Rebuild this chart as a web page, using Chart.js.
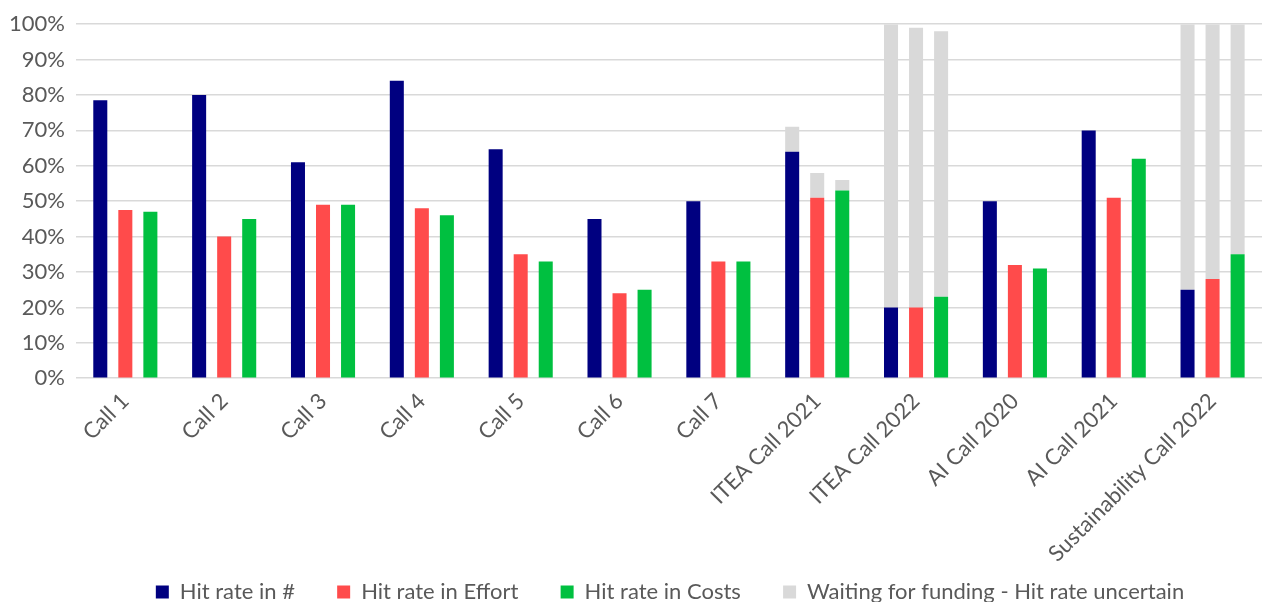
<!DOCTYPE html>
<html>
<head>
<meta charset="utf-8">
<script src="https://cdn.jsdelivr.net/npm/chart.js@4/dist/chart.umd.min.js"></script>
<style>
  html, body { margin: 0; padding: 0; background: #fff; }
  #wrap { width: 1266px; height: 602px; position: relative; }
</style>
</head>
<body>
<div id="wrap"><canvas id="hitChart"></canvas></div>
<script>
// hit rates per call (%)
const calls = ['Call 1', 'Call 2', 'Call 3', 'Call 4', 'Call 5', 'Call 6', 'Call 7',
  'ITEA Call 2021', 'ITEA Call 2022', 'AI Call 2020', 'AI Call 2021', 'Sustainability Call 2022'];
const hitNum    = [78.5, 80, 61, 84, 64.7, 45, 50, 64, 20, 50, 70, 25];
const hitEffort = [47.5, 40, 49, 48, 35, 24, 33, 51, 20, 32, 51, 28];
const hitCosts  = [47, 45, 49, 46, 33, 25, 33, 53, 23, 31, 62, 35];
// grey "waiting" part stacked on top of each bar
const waitNum    = [null, null, null, null, null, null, null, 7, 80, null, null, 75];
const waitEffort = [null, null, null, null, null, null, null, 7, 79, null, null, 72];
const waitCosts  = [null, null, null, null, null, null, null, 3, 75, null, null, 65];

const TEXT = '#595959';
const GRID = '#d9d9d9';
const FONT = { family: 'Lato', size: 22 };
const WAIT_LABEL = 'Waiting for funding - Hit rate uncertain';
const LEGEND_GAP = '\u2003\u2002\u2009';   // extra room between legend entries

// legend in the original sits a bit right of centre
const legendShift = {
  id: 'legendShift',
  afterLayout(chart) {
    chart.legend.left += 40;
    chart.legend.right += 40;
  }
};

new Chart(document.getElementById('hitChart'), {
  type: 'bar',
  data: {
    labels: calls,
    datasets: [
      { label: 'Hit rate in #', data: hitNum, backgroundColor: '#000080', stack: 'num' },
      { label: 'Hit rate in Effort', data: hitEffort, backgroundColor: '#ff4b4b', stack: 'effort' },
      { label: 'Hit rate in Costs', data: hitCosts, backgroundColor: '#00c040', stack: 'costs' },
      { label: WAIT_LABEL, data: waitNum, backgroundColor: GRID, stack: 'num' },
      { label: WAIT_LABEL, data: waitEffort, backgroundColor: GRID, stack: 'effort' },
      { label: WAIT_LABEL, data: waitCosts, backgroundColor: GRID, stack: 'costs' }
    ]
  },
  plugins: [legendShift],
  options: {
    responsive: true,
    maintainAspectRatio: false,
    animation: false,
    categoryPercentage: 0.76,
    barPercentage: 0.56,
    layout: { padding: { left: -2, right: 4, top: 23, bottom: -11 } },
    plugins: {
      tooltip: { enabled: false },
      legend: {
        position: 'bottom',
        labels: {
          color: TEXT,
          font: FONT,
          boxWidth: 13,
          boxHeight: 13,
          padding: 12,
          generateLabels: (chart) => {
            const items = Chart.defaults.plugins.legend.labels.generateLabels(chart).slice(0, 4);
            items.forEach((it, i) => { if (i < 3) it.text += LEGEND_GAP; });
            return items;
          }
        }
      }
    },
    scales: {
      x: {
        stacked: true,
        grid: { display: false },
        border: { display: false },
        ticks: { color: TEXT, font: FONT, minRotation: 45, maxRotation: 45, padding: 2 }
      },
      y: {
        stacked: true,
        min: 0,
        max: 100,
        border: { display: false },
        grid: { color: GRID, lineWidth: 1.5, drawTicks: false },
        ticks: { stepSize: 10, color: TEXT, font: FONT, padding: 11, callback: v => v + '%' }
      }
    }
  }
});
</script>
</body>
</html>
